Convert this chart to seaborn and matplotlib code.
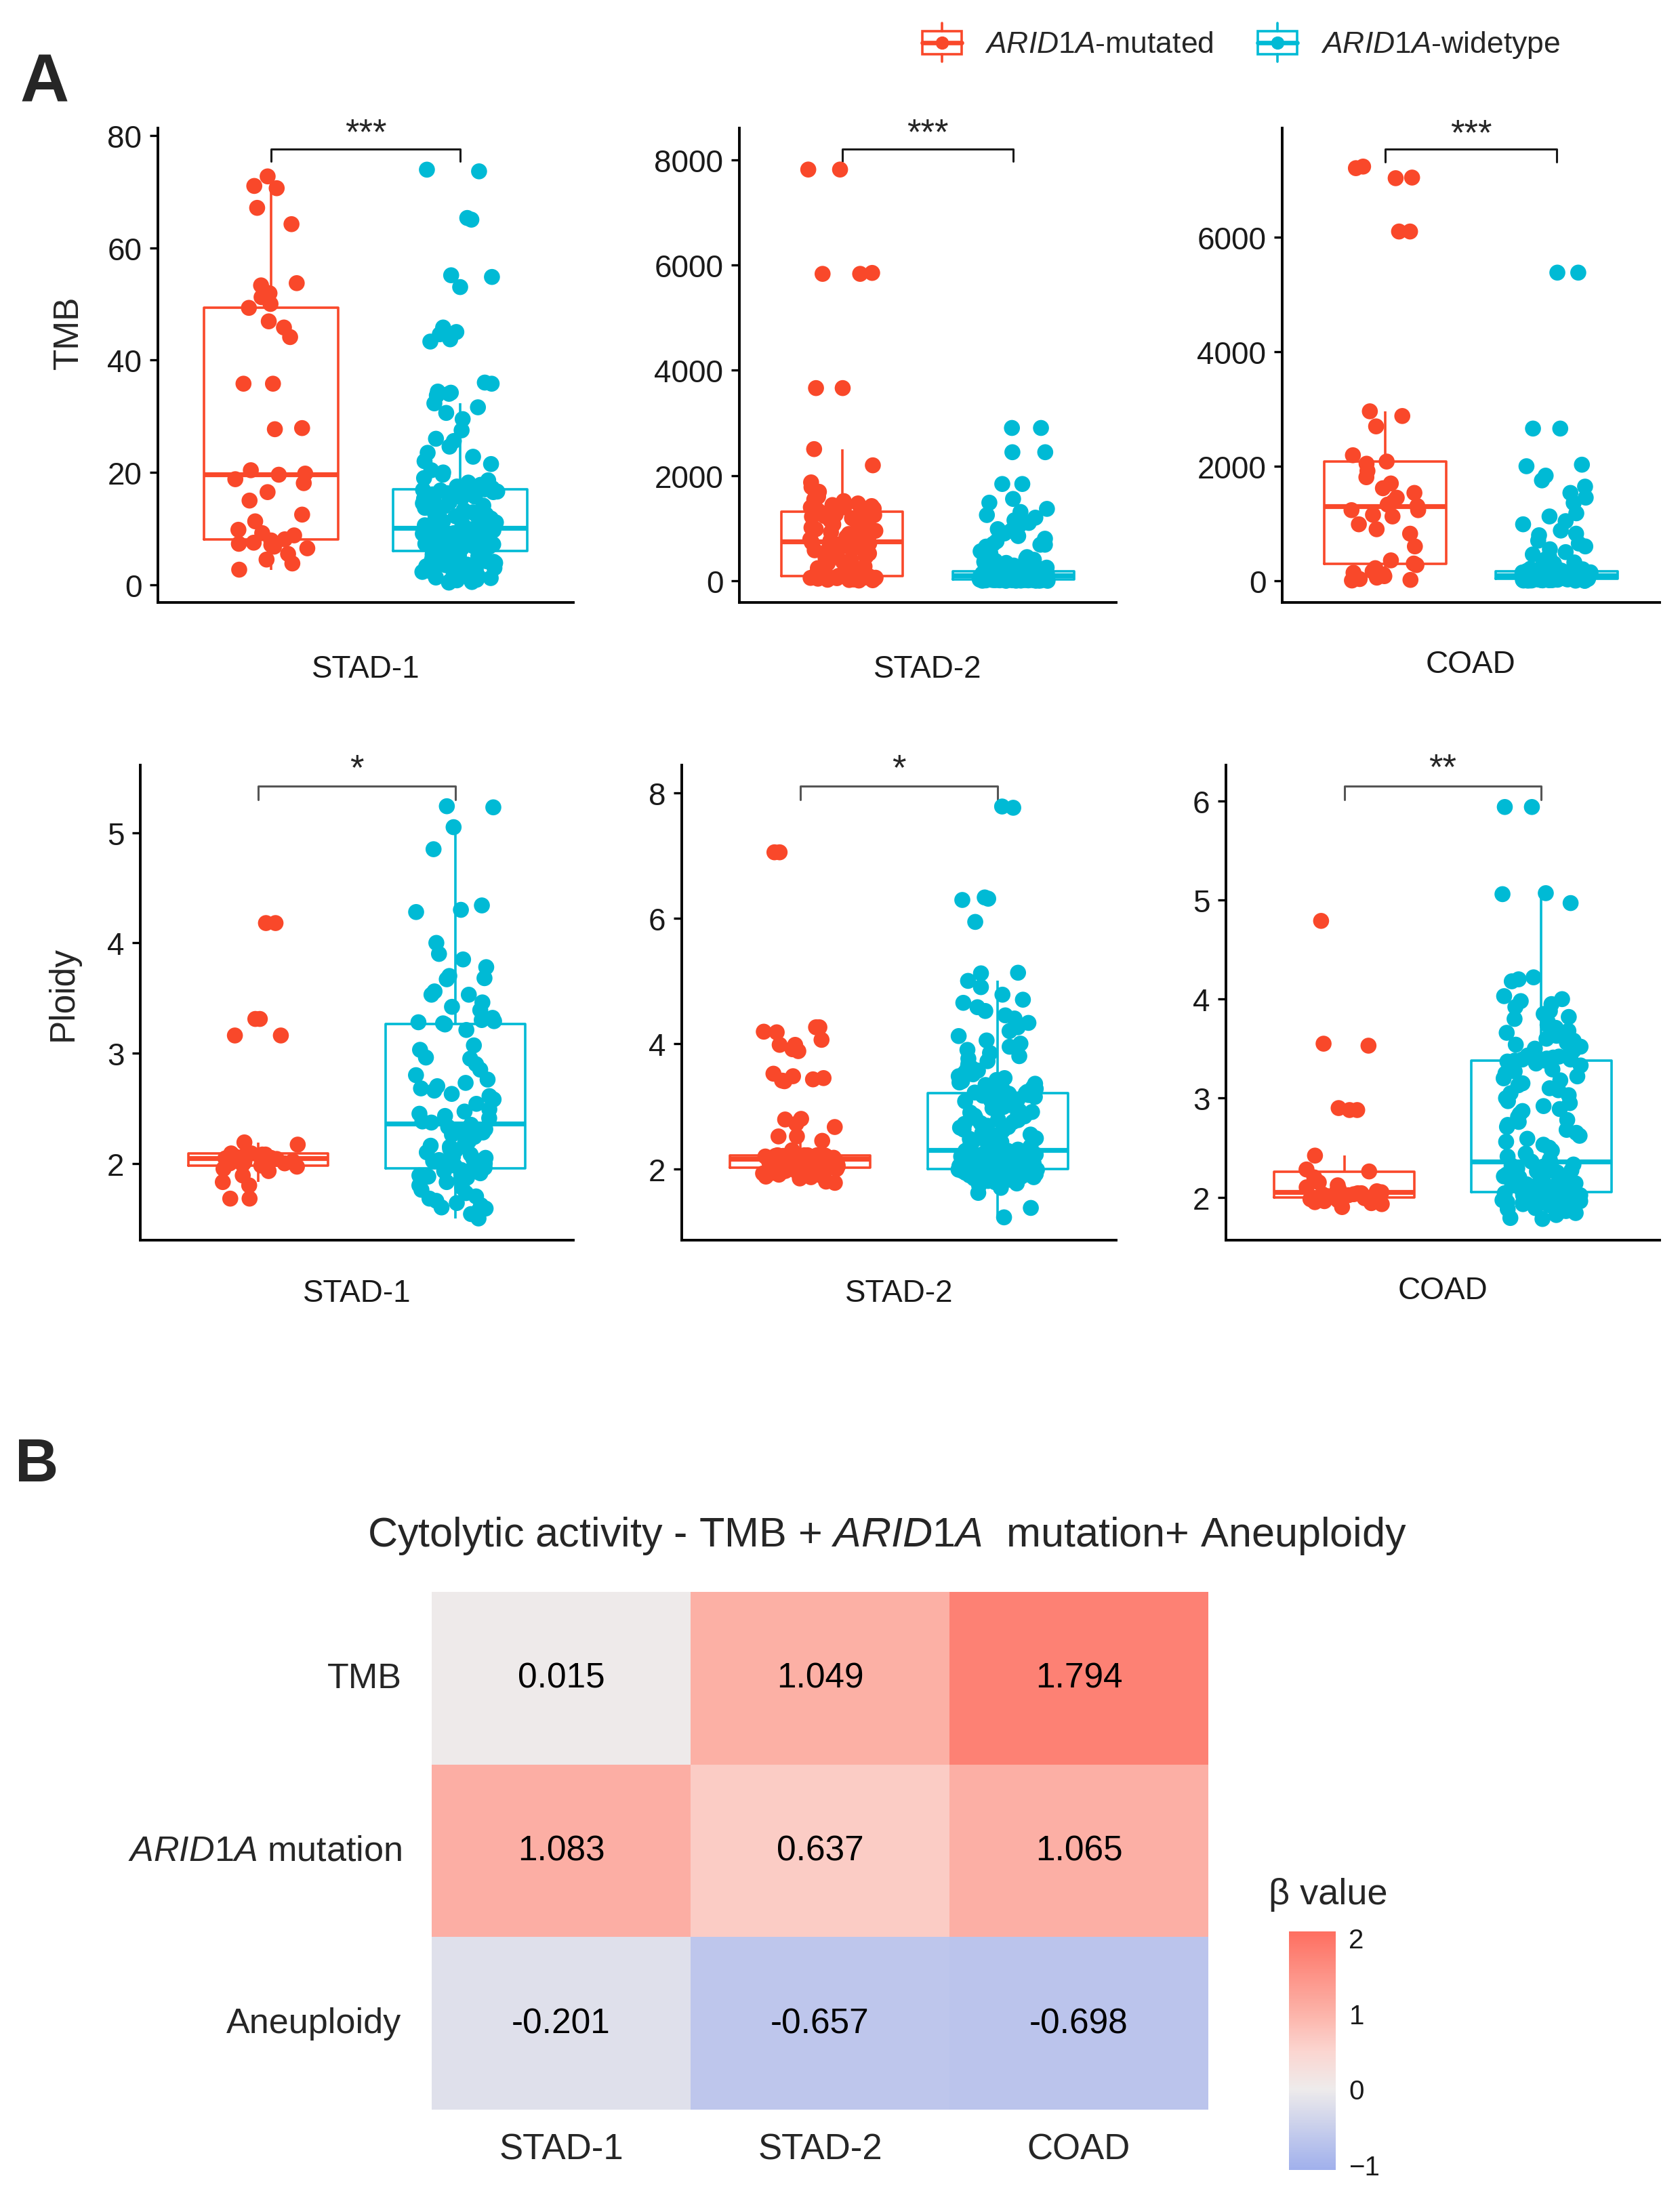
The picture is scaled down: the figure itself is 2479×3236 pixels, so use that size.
import numpy as np
import pandas as pd
import matplotlib
matplotlib.use("Agg")
import matplotlib.pyplot as plt
import seaborn as sns
from matplotlib.colors import LinearSegmentedColormap
from matplotlib.legend_handler import HandlerBase
from matplotlib.lines import Line2D
from matplotlib.patches import Rectangle

# ---------------------------------------------------------------- data
GROUPS = ["ARID1A-mutated", "ARID1A-widetype"]
GROUP_LABELS = [r"$\mathit{ARID1A}$-mutated", r"$\mathit{ARID1A}$-widetype"]
COHORTS = ["STAD-1", "STAD-2", "COAD"]

STAD1_TMB_MUT = [2.7, 3.8, 4.5, 5.5, 6.5, 6.8, 7.1, 7.3, 7.5, 7.9, 8.1, 8.8, 9.2, 9.8,
                 11.3, 12.5, 15.0, 16.5, 18.1, 18.8, 19.6, 19.8, 20.4, 27.7, 27.9, 35.8,
                 35.8, 44.1, 45.8, 46.9, 49.3, 50.0, 51.2, 51.9, 53.3, 53.7, 64.2, 67.1,
                 70.6, 71.0, 72.7]
STAD1_TMB_WT = [0.4, 0.5, 0.7, 0.8, 0.9, 1.1, 1.2, 1.3, 1.5, 1.6, 1.8, 1.9, 2.0, 2.2, 2.3,
                2.5, 2.6, 2.8, 2.9, 3.0, 3.2, 3.3, 3.5, 3.6, 3.8, 3.9, 4.1, 4.2, 4.4, 4.5,
                4.6, 4.8, 4.9, 5.1, 5.2, 5.4, 5.5, 5.6, 5.8, 5.9, 6.0,
                6.1, 6.2, 6.3, 6.5, 6.6, 6.7, 6.8, 6.9, 7.0, 7.2, 7.3, 7.4, 7.5, 7.6, 7.7,
                7.9, 8.0, 8.1, 8.2, 8.3, 8.4, 8.5, 8.7, 8.8, 8.9, 9.0, 9.1, 9.2, 9.3, 9.4,
                9.5, 9.6, 9.6, 9.7, 9.8, 9.8, 9.9, 10.0, 10.0, 10.1,
                10.2, 10.3, 10.5, 10.6, 10.8, 11.0, 11.1, 11.3, 11.5, 11.6, 11.8, 12.0,
                12.2, 12.4, 12.5, 12.7, 12.9, 13.1, 13.3, 13.5, 13.7, 13.9, 14.1, 14.3,
                14.5, 14.7, 14.9, 15.1, 15.3, 15.5, 15.7, 15.9, 16.1, 16.3, 16.4, 16.5,
                16.6, 16.8, 16.9, 17.0,
                17.2, 17.5, 17.8, 18.0, 18.2, 18.6, 19.0, 19.6, 20.0, 20.4, 21.5, 22.0,
                22.8, 23.5, 24.6, 25.6, 26.0, 27.5, 29.5, 30.6, 31.6, 32.3, 33.7, 34.0,
                34.2, 34.4, 35.8, 36.0, 43.3, 43.7, 44.6, 45.0, 45.8, 53.0, 54.8, 55.1,
                65.0, 65.3, 73.6, 73.9]

STAD2_TMB_MUT = [5, 10, 15, 20, 25, 30, 35, 40, 42, 45, 50, 52, 55, 58, 60, 62, 65, 68,
                 70, 72, 75, 80, 85, 88, 92, 95,
                 110, 130, 150, 180, 210, 240, 272, 300, 331, 360, 400, 430, 460, 490,
                 520, 550, 580, 610, 627, 627, 660, 690, 710, 730, 746,
                 760, 790, 805, 830, 864, 890, 923, 950, 980, 1010, 1041, 1071, 1100,
                 1120, 1150, 1170, 1190, 1210, 1219, 1230, 1249, 1260, 1280, 1295, 1308,
                 1315, 1330, 1350, 1370, 1396, 1396, 1420, 1440, 1470, 1515, 1544, 1574,
                 1600, 1692, 1780, 1870, 2195, 2503, 3663, 3663, 5834, 5834, 5852, 7817,
                 7817]
STAD2_TMB_WT = [0, 1, 1, 2, 3, 3, 4, 5, 5, 6, 7, 8, 8, 9, 10, 11, 11, 12, 13, 14, 14, 15,
                16, 17, 17, 18, 19, 19, 20, 21, 21, 22, 22, 23, 23, 24, 24, 25, 25, 26, 26,
                27, 27, 27, 28, 28, 28, 29, 29, 29, 30,
                31, 33, 34, 36, 37, 39, 40, 42, 43, 45, 46, 48, 49, 51, 52, 54, 55, 57,
                58, 60, 61, 63, 64, 66, 67, 69, 70, 72, 73, 75, 76, 78, 79, 81, 82, 84,
                85, 87, 88, 90, 91, 92, 93, 94, 95, 96, 97, 98, 99, 100,
                101, 103, 105, 106, 108, 110, 111, 113, 115, 116, 118, 120, 121, 123,
                125, 126, 128, 130, 131, 133, 135, 136, 138, 140, 141, 143, 145, 146,
                148, 150, 151, 153, 155, 156, 158, 160, 161, 163, 165, 166, 168, 170,
                171, 173, 174, 175, 176, 177, 179, 180,
                185, 190, 195, 200, 210, 220, 230, 240, 250, 260, 270, 280, 290, 300,
                320, 340, 360, 380, 400, 420, 450, 480, 520, 560, 600, 650, 686, 686,
                700, 750, 800, 850, 900, 950, 982, 1050, 1100, 1150, 1200, 1250, 1308,
                1367, 1485, 1556, 1840, 1840, 2444, 2444, 2905, 2905]

COAD_TMB_MUT = [5, 15, 30, 55, 80, 110, 140, 164, 220, 274, 301,
                356, 600, 822, 900, 986, 1123, 1151, 1233, 1233, 1304,
                1330, 1380, 1450, 1534, 1616, 1699, 1808, 1918, 2082, 2044,
                2192, 2696, 2877, 2959, 6099, 6099, 7030, 7041, 7205, 7233]
COAD_TMB_WT = [0, 1, 2, 2, 4, 5, 6, 7, 9, 10, 11, 12, 13, 15, 16, 17, 18, 19, 21, 22, 23,
               24, 25, 26, 27, 28, 29, 30, 31, 32, 33, 33, 34, 35, 36, 36, 37, 38, 39, 39,
               40,
               41, 42, 44, 45, 47, 48, 50, 51, 53, 54, 56, 57, 59, 60, 62, 63, 65, 66, 68,
               69, 71, 72, 74, 75, 77, 78, 80, 81, 83, 84, 86, 87, 89, 90, 92, 93, 95, 97,
               99, 100,
               102, 104, 105, 107, 109, 110, 112, 114, 115, 117, 119, 120, 122, 124, 125,
               127, 129, 130, 132, 134, 135, 137, 139, 140, 142, 144, 145, 147, 149, 150,
               152, 154, 155, 157, 159, 161, 163, 166, 168, 170,
               175, 180, 185, 190, 200, 210, 225, 240, 260, 280, 300, 320, 350, 380, 420,
               460, 500, 550, 600, 650, 700, 795, 822, 877, 986, 1041, 1123, 1178, 1359,
               1452, 1534, 1644, 1753, 1836, 2000, 2027, 2658, 2658, 5381, 5381]

STAD1_PLOIDY_MUT = [1.68, 1.68, 1.80, 1.83, 1.89, 1.93, 1.95, 1.97, 1.98,
                    1.99, 2.00, 2.00, 2.01, 2.02, 2.03, 2.04, 2.045,
                    2.05, 2.05, 2.06, 2.07, 2.08, 2.08, 2.09, 2.09,
                    2.17, 2.19, 3.16, 3.16, 3.31, 3.31, 4.18, 4.18]
STAD1_PLOIDY_WT = [1.50, 1.54, 1.58, 1.59, 1.60, 1.62, 1.64, 1.66, 1.68, 1.70, 1.73, 1.76,
                   1.78, 1.80, 1.83, 1.85, 1.87, 1.88, 1.89, 1.90, 1.91, 1.92, 1.93, 1.94,
                   1.95, 1.96,
                   1.98, 2.00, 2.01, 2.02, 2.03, 2.04, 2.05, 2.06, 2.08, 2.10, 2.12, 2.13,
                   2.15, 2.16, 2.18, 2.20, 2.22, 2.24, 2.26, 2.28, 2.30, 2.31, 2.33, 2.35,
                   2.37,
                   2.38, 2.41, 2.43, 2.45, 2.47, 2.49, 2.54, 2.58, 2.61, 2.63, 2.66, 2.68,
                   2.70, 2.73, 2.76, 2.80, 2.85, 2.90, 2.95, 2.96, 3.03, 3.07, 3.21, 3.26,
                   3.27, 3.28, 3.29, 3.30, 3.32, 3.39, 3.42, 3.46, 3.53, 3.53, 3.56, 3.67,
                   3.68, 3.70, 3.78, 3.85, 3.90, 4.00, 4.28, 4.30, 4.34, 4.85, 5.05, 5.23,
                   5.24]

STAD2_PLOIDY_MUT = [1.78, 1.80, 1.85, 1.87, 1.88, 1.89, 1.90, 1.91, 1.92, 1.93, 1.94, 1.95,
                    1.95, 1.96, 1.96, 1.97, 1.97, 1.98, 1.98, 1.99, 1.99, 2.00, 2.00, 2.01,
                    2.01, 2.02,
                    2.03, 2.03, 2.04, 2.05, 2.05, 2.06, 2.07, 2.07, 2.08, 2.09, 2.09, 2.10,
                    2.10, 2.11, 2.11, 2.12, 2.12, 2.13, 2.13, 2.14, 2.14, 2.15, 2.15, 2.15,
                    2.16,
                    2.16, 2.17, 2.17, 2.17, 2.18, 2.18, 2.18, 2.19, 2.19, 2.19, 2.19, 2.20,
                    2.20, 2.20, 2.20, 2.21, 2.21, 2.21, 2.21, 2.21, 2.22, 2.22, 2.22, 2.22,
                    2.22,
                    2.30, 2.45, 2.52, 2.52, 2.67, 2.72, 2.79, 2.80, 3.40, 3.41, 3.43, 3.45,
                    3.48, 3.52, 3.88, 3.91, 3.98, 3.98, 4.06, 4.18, 4.19, 4.26, 4.26, 7.05,
                    7.05]
STAD2_PLOIDY_WT = [1.23, 1.38, 1.62, 1.70, 1.74, 1.77, 1.79, 1.81, 1.83, 1.84, 1.85, 1.86,
                   1.87, 1.88, 1.88, 1.89, 1.90, 1.90, 1.91, 1.91, 1.92, 1.92, 1.93, 1.93,
                   1.94, 1.94, 1.94, 1.95, 1.95, 1.95, 1.96, 1.96, 1.96, 1.97, 1.97, 1.97,
                   1.97, 1.98, 1.98, 1.98, 1.98, 1.98, 1.99, 1.99, 1.99, 1.99, 1.99, 1.99,
                   1.99, 1.99, 2.00,
                   2.01, 2.01, 2.02, 2.02, 2.03, 2.03, 2.04, 2.04, 2.05, 2.05, 2.06, 2.06,
                   2.07, 2.07, 2.08, 2.08, 2.09, 2.09, 2.10, 2.10, 2.11, 2.12, 2.12, 2.13,
                   2.14, 2.14, 2.15, 2.16, 2.16, 2.17, 2.18, 2.18, 2.19, 2.20, 2.20, 2.21,
                   2.22, 2.22, 2.23, 2.24, 2.24, 2.25, 2.26, 2.26, 2.27, 2.28, 2.28, 2.29,
                   2.29, 2.30,
                   2.31, 2.33, 2.36, 2.37, 2.39, 2.42, 2.43, 2.45, 2.48, 2.49, 2.51, 2.54,
                   2.55, 2.57, 2.60, 2.61, 2.63, 2.66, 2.67, 2.69, 2.72, 2.73, 2.75, 2.78,
                   2.79, 2.81, 2.84, 2.85, 2.87, 2.90, 2.91, 2.93, 2.96, 2.97, 2.99, 3.02,
                   3.03, 3.05, 3.08, 3.09, 3.11, 3.13, 3.15, 3.16, 3.17, 3.18, 3.19, 3.19,
                   3.20, 3.21,
                   3.22, 3.23, 3.25, 3.26, 3.27, 3.28, 3.30, 3.32, 3.34, 3.36, 3.38, 3.40,
                   3.42, 3.45, 3.48, 3.51, 3.54, 3.57, 3.60, 3.64, 3.68, 3.72, 3.76, 3.80,
                   3.85, 3.90, 3.95, 4.00, 4.05, 4.12, 4.20, 4.26, 4.33, 4.40, 4.45, 4.52,
                   4.58, 4.65, 4.70, 4.78, 4.90, 5.00, 5.12, 5.13, 5.94, 6.29, 6.31, 6.33,
                   7.76, 7.78]

COAD_PLOIDY_MUT = [1.90, 1.93, 1.94, 1.95, 1.96, 1.97, 1.98, 1.99, 2.00,
                   2.01, 2.02, 2.02, 2.03, 2.03, 2.04, 2.04, 2.05,
                   2.06, 2.07, 2.08, 2.10, 2.12, 2.15, 2.20, 2.26,
                   2.28, 2.42, 2.88, 2.88, 2.90, 3.53, 3.55, 4.79]
COAD_PLOIDY_WT = [1.78, 1.79, 1.82, 1.84, 1.86, 1.87, 1.88, 1.89, 1.90, 1.91, 1.92, 1.93,
                  1.93, 1.94, 1.95, 1.95, 1.96, 1.96, 1.97, 1.97, 1.98, 1.98, 1.99, 1.99,
                  2.00, 2.00, 2.00, 2.01, 2.01, 2.01, 2.02, 2.02, 2.02, 2.03, 2.03, 2.03,
                  2.04, 2.04, 2.04, 2.04, 2.05,
                  2.06, 2.06, 2.07, 2.07, 2.08, 2.08, 2.09, 2.09, 2.10, 2.10, 2.11, 2.11,
                  2.12, 2.12, 2.13, 2.14, 2.14, 2.15, 2.16, 2.17, 2.17, 2.18, 2.19, 2.20,
                  2.21, 2.22, 2.23, 2.24, 2.25, 2.26, 2.27, 2.28, 2.29, 2.30, 2.31, 2.32,
                  2.33, 2.34, 2.35, 2.36,
                  2.38, 2.41, 2.44, 2.47, 2.50, 2.53, 2.56, 2.59, 2.62, 2.65, 2.68, 2.71,
                  2.73, 2.76, 2.78, 2.81, 2.84, 2.87, 2.89, 2.92, 2.95, 2.97, 3.00, 3.03,
                  3.05, 3.08, 3.10, 3.13, 3.15, 3.18, 3.20, 3.22, 3.25, 3.27, 3.29, 3.31,
                  3.33, 3.35, 3.37, 3.38,
                  3.38, 3.39, 3.39, 3.40, 3.40, 3.41, 3.42, 3.43, 3.44, 3.46, 3.48, 3.50,
                  3.52, 3.54, 3.56, 3.58, 3.60, 3.63, 3.66, 3.68, 3.71, 3.74, 3.77, 3.80,
                  3.82, 3.85, 3.88, 3.92, 3.95, 3.98, 4.00, 4.03, 4.18, 4.20, 4.22, 4.97,
                  5.06, 5.07, 5.94, 5.94]

SIG_TMB = ["***", "***", "***"]
SIG_PLOIDY = ["*", "*", "**"]

HEAT_ROWS = ["TMB", r"$\mathit{ARID1A}$ mutation", "Aneuploidy"]
HEAT_COLS = ["STAD-1", "STAD-2", "COAD"]
BETA_TMB = [0.015, 1.049, 1.794]
BETA_ARID1A = [1.083, 0.637, 1.065]
BETA_ANEUPLOIDY = [-0.201, -0.657, -0.698]
CBAR_TICKS = [-1, 0, 1, 2]

# ---------------------------------------------------------------- style
sns.set_style("ticks")
plt.rcParams["font.family"] = ["Liberation Sans", "DejaVu Sans"]
plt.rcParams["mathtext.fontset"] = "custom"
plt.rcParams["mathtext.rm"] = "Liberation Sans"
plt.rcParams["mathtext.it"] = "Liberation Sans:italic"
plt.rcParams["mathtext.bf"] = "Liberation Sans:bold"

RED = "#F9482A"
CYAN = "#00BAD5"
PAL = {GROUPS[0]: RED, GROUPS[1]: CYAN}

W, H = 2479, 3237
fig = plt.figure(figsize=(W / 100, H / 100), dpi=100)
np.random.seed(7)


def rect(left, top, right, bottom):
    return [left / W, 1 - bottom / H, (right - left) / W, (bottom - top) / H]


def draw_panel(box, mut, wt, ylim, yticks, sig, br_y, br_drop, cohort,
               ylabel=None, ylabel_x=None, ylabel_y=0.5, xlab_y=-0.14,
               br_color="#1a1a1a", star_off=6):
    ax = fig.add_axes(box)
    df = pd.DataFrame({
        "group": [GROUPS[0]] * len(mut) + [GROUPS[1]] * len(wt),
        "value": list(mut) + list(wt),
    })
    sns.boxplot(data=df, x="group", y="value", hue="group", order=GROUPS,
                hue_order=GROUPS, palette=PAL, fill=False, width=0.71,
                showfliers=False, showcaps=False, linewidth=2.6,
                medianprops={"linewidth": 5.2}, legend=False, ax=ax)
    sns.stripplot(data=df, x="group", y="value", hue="group", order=GROUPS,
                  hue_order=GROUPS, palette=PAL, jitter=0.2, size=17,
                  linewidth=0, legend=False, zorder=3, ax=ax)
    ax.set_xlim(-0.6, 1.6)
    ax.set_ylim(*ylim)
    ax.set_yticks(yticks)
    sns.despine(ax=ax)
    for s in ("left", "bottom"):
        ax.spines[s].set_linewidth(2.8)
        ax.spines[s].set_color("black")
    ax.tick_params(axis="y", length=9, width=2.4, labelsize=33, pad=8,
                   color="black", labelcolor="#1a1a1a")
    ax.tick_params(axis="x", bottom=False, labelbottom=False)
    ax.set_xlabel("")
    if ylabel:
        ax.set_ylabel(ylabel, fontsize=37)
        ax.yaxis.set_label_coords(ylabel_x, ylabel_y)
    else:
        ax.set_ylabel("")
    ax.text(0.5, xlab_y, cohort, transform=ax.transAxes, ha="center",
            va="center", fontsize=33, color="#1a1a1a")
    ax.plot([0, 0, 1, 1], [br_y - br_drop, br_y, br_y, br_y - br_drop],
            color=br_color, lw=2.2, clip_on=False)
    ax.annotate(sig, xy=(0.5, br_y), xytext=(0, star_off),
                textcoords="offset points", ha="center", va="baseline",
                fontsize=38, annotation_clip=False)
    return ax


# Row 1: TMB
draw_panel(rect(233, 190, 846, 890), STAD1_TMB_MUT, STAD1_TMB_WT, (-3.14, 81.3),
           [0, 20, 40, 60, 80], SIG_TMB[0], 77.6, 2.2, COHORTS[0],
           ylabel="TMB", ylabel_x=-0.175, ylabel_y=0.57)
draw_panel(rect(1091, 190, 1647, 890), STAD2_TMB_MUT, STAD2_TMB_WT, (-412, 8605),
           [0, 2000, 4000, 6000, 8000], SIG_TMB[1], 8209, 241, COHORTS[1])
draw_panel(rect(1892, 190, 2449, 890), COAD_TMB_MUT, COAD_TMB_WT, (-379, 7905),
           [0, 2000, 4000, 6000], SIG_TMB[2], 7535, 218, COHORTS[2],
           xlab_y=-0.13)

# Row 2: Ploidy
draw_panel(rect(207, 1130, 846, 1831), STAD1_PLOIDY_MUT, STAD1_PLOIDY_WT,
           (1.303, 5.613), [2, 3, 4, 5], SIG_PLOIDY[0], 5.42, 0.12, COHORTS[0],
           ylabel="Ploidy", ylabel_x=-0.14, ylabel_y=0.52, xlab_y=-0.111,
           br_color="#555555", star_off=8)
draw_panel(rect(1006, 1130, 1647, 1831), STAD2_PLOIDY_MUT, STAD2_PLOIDY_WT,
           (0.866, 8.44), [2, 4, 6, 8], SIG_PLOIDY[1], 8.10, 0.21, COHORTS[1],
           xlab_y=-0.111, br_color="#555555", star_off=8)
draw_panel(rect(1809, 1130, 2449, 1831), COAD_PLOIDY_MUT, COAD_PLOIDY_WT,
           (1.566, 6.363), [2, 3, 4, 5, 6], SIG_PLOIDY[2], 6.153, 0.137,
           COHORTS[2], xlab_y=-0.105, br_color="#555555", star_off=8)


# ---------------------------------------------------------------- legend
class BoxKey(HandlerBase):
    def create_artists(self, legend, orig_handle, xdescent, ydescent, width,
                       height, fontsize, trans):
        c = orig_handle.get_color()
        x0, y0 = -xdescent, -ydescent
        r = Rectangle((x0 + 0.05 * width, y0 + 0.16 * height), 0.9 * width,
                      0.68 * height, fill=False, ec=c, lw=2.6)
        med = Line2D([x0 + 0.05 * width, x0 + 0.95 * width],
                     [y0 + 0.5 * height] * 2, color=c, lw=4.8)
        w1 = Line2D([x0 + 0.5 * width] * 2, [y0 - 0.08 * height, y0 + 0.16 * height],
                    color=c, lw=2.6)
        w2 = Line2D([x0 + 0.5 * width] * 2, [y0 + 0.84 * height, y0 + 1.08 * height],
                    color=c, lw=2.6)
        pt = Line2D([x0 + 0.5 * width], [y0 + 0.5 * height], marker="o", ms=13,
                    color=c, ls="none")
        arts = [r, med, w1, w2, pt]
        for a in arts:
            a.set_transform(trans)
        return arts


handles = [Line2D([], [], color=RED), Line2D([], [], color=CYAN)]
fig.legend(handles=handles, labels=GROUP_LABELS, handler_map={Line2D: BoxKey()},
           loc="center", bbox_to_anchor=(1830 / W, 1 - 64 / H), ncol=2,
           frameon=False, fontsize=32, handlelength=1.45, handleheight=1.35,
           handletextpad=0.7, columnspacing=1.4)

# ---------------------------------------------------------------- heatmap
heat = pd.DataFrame([BETA_TMB, BETA_ARID1A, BETA_ANEUPLOIDY], index=HEAT_ROWS,
                    columns=HEAT_COLS)
vmin, vmax = -1.07, 2.08
anchors = [(vmin, "#A0B0EC"), (0.0, "#EEEBEB"), (0.5, "#FBD5D0"), (1.0, "#FCB3A9"),
           (vmax, "#FE6F61")]
cmap = LinearSegmentedColormap.from_list(
    "beta", [((v - vmin) / (vmax - vmin), c) for v, c in anchors])

hax = fig.add_axes(rect(637, 2350, 1783, 3114))
cax = fig.add_axes(rect(1902, 2851, 1971, 3203))
sns.heatmap(heat, ax=hax, cmap=cmap, vmin=vmin, vmax=vmax, annot=True, fmt=".3f",
            annot_kws={"fontsize": 37, "color": "black"}, cbar_ax=cax,
            cbar_kws={"ticks": CBAR_TICKS}, linewidths=0)
hax.set_xlabel("")
hax.set_ylabel("")
hax.tick_params(axis="both", length=0)
hax.tick_params(axis="x", labelsize=38, pad=24)
hax.tick_params(axis="y", labelsize=37.5, pad=32)
for t in hax.get_yticklabels():
    t.set_rotation(0)
    t.set_ha("right")
    t.set_va("center")

cbar = hax.collections[0].colorbar
cbar.outline.set_visible(False)
cax.tick_params(axis="y", direction="in", length=10, width=2, color="white",
                left=True, right=True, labelsize=29, pad=14, labelcolor="#1a1a1a")

fig.text(1872 / W, 1 - 2796 / H, "β value", fontsize=39, ha="left", va="center")
fig.text(1309 / W, 1 - 2267 / H,
         r"Cytolytic activity - TMB + $\mathit{ARID1A}$  mutation+ Aneuploidy",
         fontsize=44, ha="center", va="center")

# panel letters
fig.text(30 / W, 1 - 124 / H, "A", fontsize=72, fontweight="bold", ha="left",
         va="center")
fig.text(22 / W, 1 - 2163 / H, "B", fontsize=64, fontweight="bold", ha="left",
         va="center")

fig.savefig("out.png", dpi=100)
